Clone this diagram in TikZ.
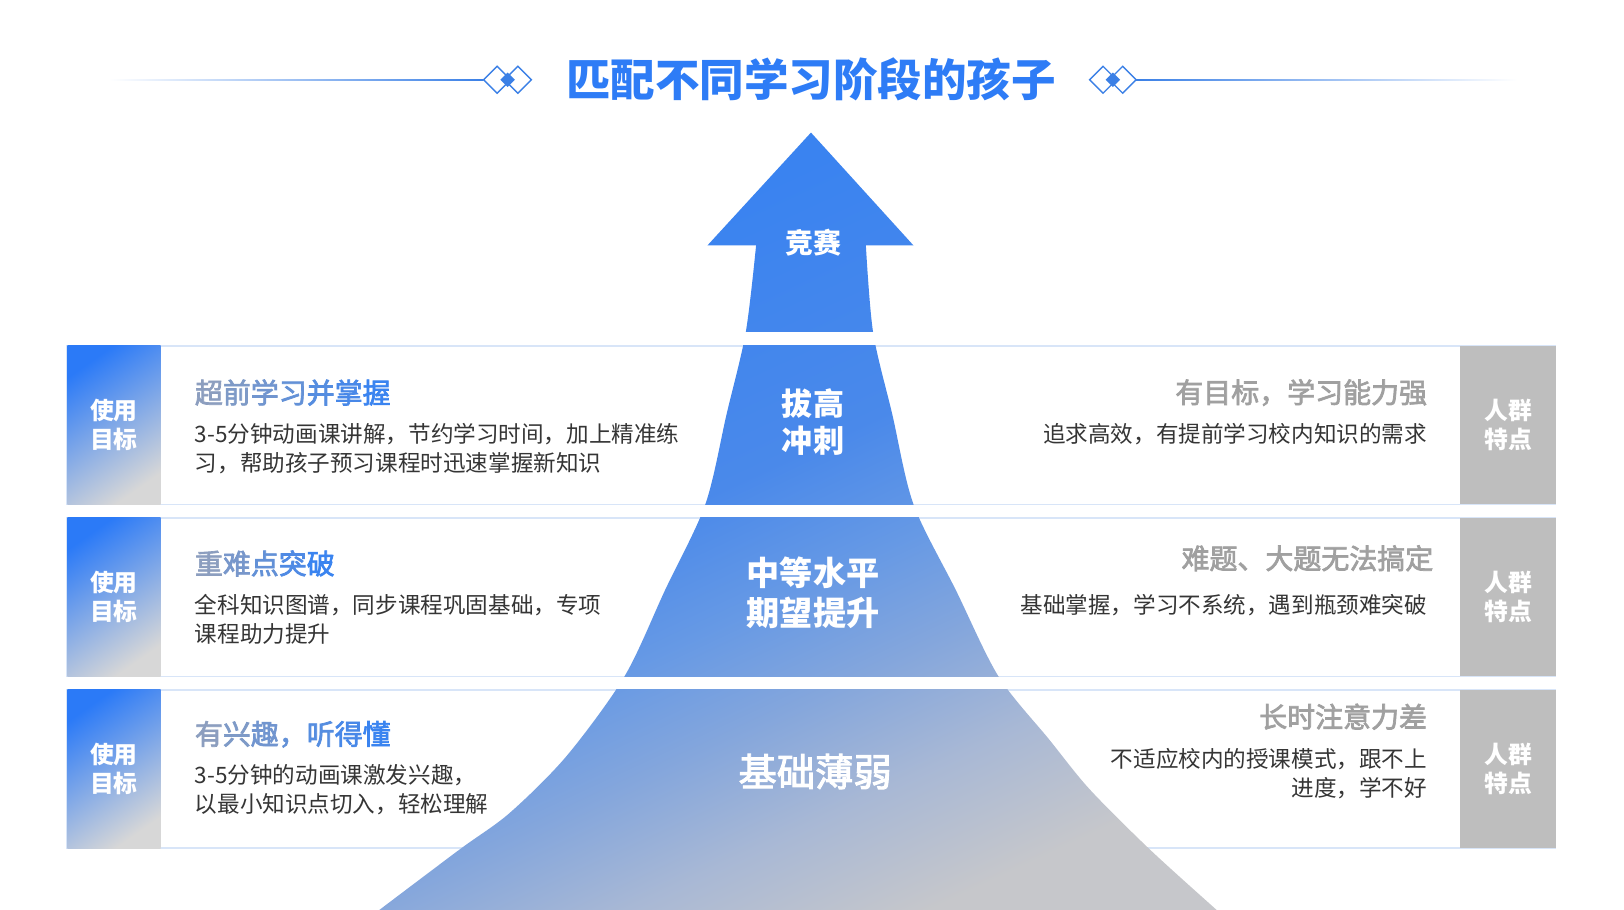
\documentclass[tikz,border=0pt]{standalone}
\usepackage{fontspec}
\setmainfont{Noto Sans CJK SC}
\newfontfamily\medfont{Noto Sans CJK SC}[FakeBold=2.5]
\usetikzlibrary{shadings}
\definecolor{titleblue}{HTML}{2E7CF6}
\definecolor{lineblue}{HTML}{3B80E6}
\definecolor{tabblue}{HTML}{2B7AF7}
\definecolor{tabmid}{HTML}{A9BDDD}
\definecolor{tabgray}{HTML}{D7D7D7}
\definecolor{rtab}{HTML}{BEBEBE}
\definecolor{rowline}{HTML}{D8E5F8}
\definecolor{hdA}{HTML}{8C9EBF}
\definecolor{hdB}{HTML}{3A84F0}
\definecolor{hdgray}{HTML}{A0A0A0}
\definecolor{bodyc}{HTML}{353535}
\definecolor{pg0}{HTML}{C6C7CB}
\definecolor{pg1}{HTML}{A8B8D5}
\definecolor{pg2}{HTML}{84A6DC}
\definecolor{pg3}{HTML}{6699E5}
\definecolor{pg4}{HTML}{4A89EA}
\definecolor{pg5}{HTML}{3A83F0}
\pgfdeclareverticalshading{pyr}{100bp}{color(0bp)=(pg0); color(25bp)=(pg0); color(33bp)=(pg1); color(40bp)=(pg2); color(46.5bp)=(pg3); color(54bp)=(pg4); color(70bp)=(pg5); color(100bp)=(pg5)}
\newcommand{\hg}[2]{\textcolor{hdB!#1!hdA}{#2}}
\tikzset{
  tabtxt/.style={text=white, font=\fontsize{23}{28}\selectfont\bfseries, align=center, inner sep=0},
  headL/.style={anchor=west, inner sep=0, font=\fontsize{27}{32}\selectfont\medfont},
  bodyL/.style={anchor=west, inner sep=0, align=left, text=bodyc, font=\fontsize{21.8}{28.5}\selectfont},
  headR/.style={anchor=east, inner sep=0, text=hdgray, font=\fontsize{27}{32}\selectfont\medfont},
  bodyR/.style={anchor=east, inner sep=0, align=right, text=bodyc, font=\fontsize{21.8}{28.5}\selectfont},
  pyrtxt/.style={text=white, align=center, inner sep=0},
  rowbox/.style={fill=white, draw=rowline, line width=1.6},
  ltab/.style={top color=tabblue, middle color=tabmid, bottom color=tabgray, shading angle=35},
  rtabbox/.style={fill=rtab},
  dia/.style={draw=lineblue, line width=1.3},
}
\begin{document}
\begin{tikzpicture}[x=1pt,y=-1pt]
\useasboundingbox (0,0) rectangle (1568,878.6);
\fill[white] (0,0) rectangle (1568,878.6);

% title decoration
\shade[left color=white, right color=lineblue] (105,76.3) rectangle (467,77.7);
\shade[left color=lineblue, right color=white] (1097,76.3) rectangle (1465,77.7);
\draw[dia] (467,77) -- (480,64) -- (493,77) -- (480,90) -- cycle;
\draw[dia] (487,77) -- (500,64) -- (513,77) -- (500,90) -- cycle;
\fill[lineblue] (483,77) -- (490,70) -- (497,77) -- (490,84) -- cycle;
\draw[dia] (1052,77) -- (1065,64) -- (1078,77) -- (1065,90) -- cycle;
\draw[dia] (1071,77) -- (1084,64) -- (1097,77) -- (1084,90) -- cycle;
\fill[lineblue] (1067.5,77) -- (1074.5,70) -- (1081.5,77) -- (1074.5,84) -- cycle;
\node[font=\fontsize{43}{50}\selectfont\bfseries, text=titleblue, inner sep=0] (title) at (783,77) {匹配不同学习阶段的孩子};

% rows
\foreach \t/\b in {334/487, 500/653, 666/819} {
  \draw[rowbox] (65,\t) rectangle (1502,\b);
  \shade[ltab] (65,\t) rectangle (155,\b);
  \fill[rtabbox] (1410,\t) rectangle (1502,\b);
}

% pyramid / arrow
\shade[shading=pyr, shading angle=25]
  (783,128) -- (882,237) -- (836,237)
  -- plot[smooth, tension=0.5] coordinates {(836,237) (843,321) (861.5,400) (882,487) (923,570) (964,653) (1013,714) (1052,762) (1110,820) (1174,878) (1182,885)}
  -- (360,885)
  -- plot[smooth, tension=0.5] coordinates {(358,885) (367,878) (444,820) (492,785) (547,730) (603,653) (642,570) (681,487) (701.5,400) (720,321) (730,237)}
  -- (683,237) -- cycle;
\fill[white] (600,321) rectangle (1000,333.2);
\fill[white] (560,487.8) rectangle (1020,499.2);
\fill[white] (480,653.8) rectangle (1100,665.2);

% pyramid labels
\node[pyrtxt, font=\fontsize{27}{32}\selectfont\bfseries] (p0) at (785,234) {竞赛};
\node[pyrtxt, font=\fontsize{30}{35}\selectfont\bfseries] (p1) at (785,407.5) {拔高\\冲刺};
\node[pyrtxt, font=\fontsize{32}{39}\selectfont\bfseries] (p2) at (785,572.5) {中等水平\\期望提升};
\node[pyrtxt, font=\fontsize{37}{44}\selectfont\medfont] (p3) at (787,745) {基础薄弱};

% tabs text
\node[tabtxt] (lt1) at (110,410.5) {使用\\目标};
\node[tabtxt] (lt2) at (110,576.5) {使用\\目标};
\node[tabtxt] (lt3) at (110,742.5) {使用\\目标};
\node[tabtxt] (rt1) at (1456,410.5) {人群\\特点};
\node[tabtxt] (rt2) at (1456,576.5) {人群\\特点};
\node[tabtxt] (rt3) at (1456,742.5) {人群\\特点};

% left texts
\node[headL] (h1) at (188,379) {\hg{0}{超}\hg{17}{前}\hg{33}{学}\hg{50}{习}\hg{67}{并}\hg{83}{掌}\hg{100}{握}};
\node[bodyL] (b1) at (188,433) {3-5分钟动画课讲解，节约学习时间，加上精准练\\习，帮助孩子预习课程时迅速掌握新知识};
\node[headL] (h2) at (188,544) {\hg{0}{重}\hg{25}{难}\hg{50}{点}\hg{75}{突}\hg{100}{破}};
\node[bodyL] (b2) at (188,598) {全科知识图谱，同步课程巩固基础，专项\\课程助力提升};
\node[headL] (h3) at (188,709) {\hg{0}{有}\hg{17}{兴}\hg{33}{趣}\hg{50}{，}\hg{67}{听}\hg{83}{得}\hg{100}{懂}};
\node[bodyL] (b3) at (188,762.5) {3-5分钟的动画课激发兴趣，\\以最小知识点切入，轻松理解};

% right texts
\node[headR] (r1) at (1378,379) {有目标，学习能力强};
\node[bodyR] (s1) at (1378,419) {追求高效，有提前学习校内知识的需求};
\node[headR] (r2) at (1384,539) {难题、大题无法搞定};
\node[bodyR] (s2) at (1378,584) {基础掌握，学习不系统，遇到瓶颈难突破};
\node[headR] (r3) at (1378,692) {长时注意力差};
\node[bodyR] (s3) at (1378,747) {不适应校内的授课模式，跟不上\\进度，学不好};
\end{tikzpicture}
\end{document}
